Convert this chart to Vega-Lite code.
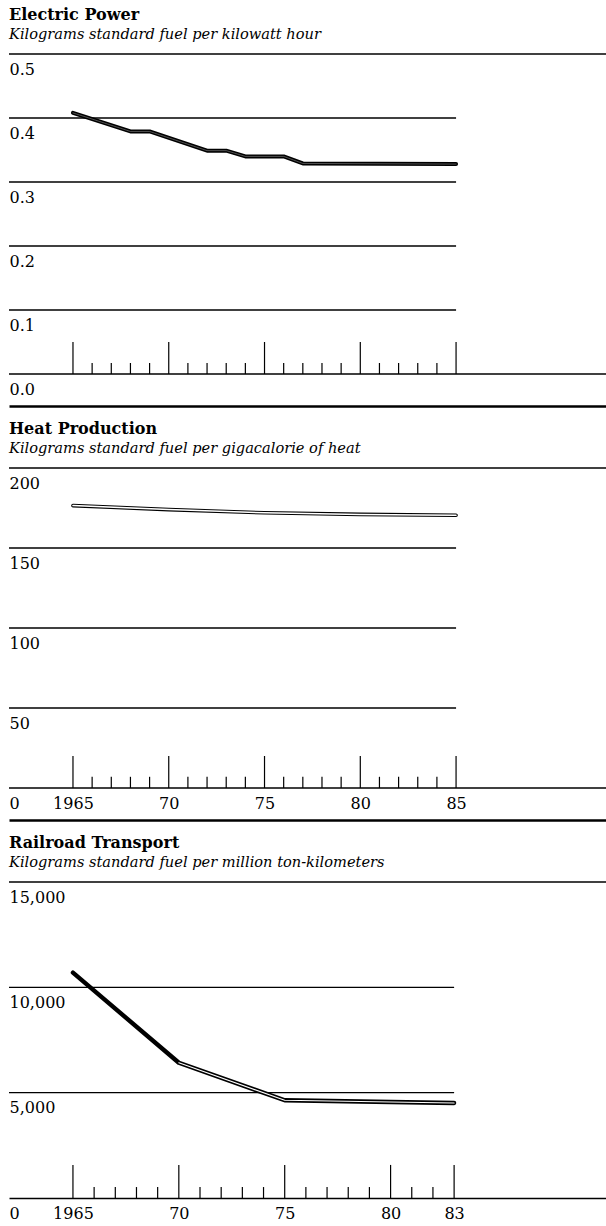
{
  "$schema": "https://vega.github.io/schema/vega-lite/v6.json",
  "background": "white",
  "padding": {"left": 8, "right": 0, "top": 6, "bottom": 0},
  "spacing": 14,
  "datasets": {
    "electric": [
      {"year": 1965, "value": 0.408},
      {"year": 1968, "value": 0.379},
      {"year": 1969, "value": 0.379},
      {"year": 1972, "value": 0.349},
      {"year": 1973, "value": 0.349},
      {"year": 1974, "value": 0.340},
      {"year": 1976, "value": 0.340},
      {"year": 1977, "value": 0.329},
      {"year": 1985, "value": 0.328}
    ],
    "heat": [
      {"year": 1965, "value": 176.5},
      {"year": 1970, "value": 174},
      {"year": 1975, "value": 172},
      {"year": 1980, "value": 171},
      {"year": 1985, "value": 170.5}
    ],
    "rail": [
      {"year": 1965, "value": 10700},
      {"year": 1970, "value": 6420},
      {"year": 1975, "value": 4640},
      {"year": 1980, "value": 4560},
      {"year": 1983, "value": 4510}
    ],
    "years85": [
      {"year": 1965, "kind": "major"}, {"year": 1966, "kind": "minor"}, {"year": 1967, "kind": "minor"}, {"year": 1968, "kind": "minor"}, {"year": 1969, "kind": "minor"},
      {"year": 1970, "kind": "major"}, {"year": 1971, "kind": "minor"}, {"year": 1972, "kind": "minor"}, {"year": 1973, "kind": "minor"}, {"year": 1974, "kind": "minor"},
      {"year": 1975, "kind": "major"}, {"year": 1976, "kind": "minor"}, {"year": 1977, "kind": "minor"}, {"year": 1978, "kind": "minor"}, {"year": 1979, "kind": "minor"},
      {"year": 1980, "kind": "major"}, {"year": 1981, "kind": "minor"}, {"year": 1982, "kind": "minor"}, {"year": 1983, "kind": "minor"}, {"year": 1984, "kind": "minor"},
      {"year": 1985, "kind": "major"}
    ],
    "years83": [
      {"year": 1965, "kind": "major"}, {"year": 1966, "kind": "minor"}, {"year": 1967, "kind": "minor"}, {"year": 1968, "kind": "minor"}, {"year": 1969, "kind": "minor"},
      {"year": 1970, "kind": "major"}, {"year": 1971, "kind": "minor"}, {"year": 1972, "kind": "minor"}, {"year": 1973, "kind": "minor"}, {"year": 1974, "kind": "minor"},
      {"year": 1975, "kind": "major"}, {"year": 1976, "kind": "minor"}, {"year": 1977, "kind": "minor"}, {"year": 1978, "kind": "minor"}, {"year": 1979, "kind": "minor"},
      {"year": 1980, "kind": "major"}, {"year": 1981, "kind": "minor"}, {"year": 1982, "kind": "minor"},
      {"year": 1983, "kind": "major"}
    ]
  },
  "config": {
    "view": {"stroke": null},
    "font": "DejaVu Serif",
    "title": {
      "anchor": "start", "frame": "group", "font": "DejaVu Serif", "fontSize": 16, "fontWeight": "bold", "color": "black",
      "subtitleFont": "DejaVu Serif", "subtitleFontSize": 14.6, "subtitleFontStyle": "italic", "subtitleColor": "black",
      "subtitlePadding": 4, "offset": 12
    },
    "axis": {
      "grid": false, "ticks": false, "tickSize": 0, "domain": false, "labels": false, "title": null,
      "labelFont": "DejaVu Serif", "labelFontSize": 16, "labelColor": "black",
      "labelOverlap": false, "labelFlush": false, "labelBound": false
    }
  },
  "vconcat": [
    {
      "width": 598, "height": 352,
      "title": {"text": "Electric Power", "subtitle": "Kilograms standard fuel per kilowatt hour"},
      "layer": [
        {
          "data": {"values": [{"v": 0.1}, {"v": 0.2}, {"v": 0.3}, {"v": 0.4}]},
          "mark": {"type": "rule", "color": "black", "strokeWidth": 1.3},
          "encoding": {
            "y": {"field": "v", "type": "quantitative", "scale": {"domain": [-0.05, 0.5], "nice": false, "zero": false},
                  "axis": {"orient": "left", "labels": true, "values": [0, 0.1, 0.2, 0.3, 0.4, 0.5], "format": ".1f", "labelAlign": "left", "labelBaseline": "alphabetic", "labelPadding": 0, "labelOffset": 20, "title": null}},
            "x": {"datum": 1961.66, "type": "quantitative", "scale": {"domain": [1961.66, 1992.88], "nice": false, "zero": false}},
            "x2": {"datum": 1985}
          }
        },
        {
          "data": {"values": [{"v": 0}, {"v": 0.5}]},
          "mark": {"type": "rule", "color": "black", "strokeWidth": 1.3},
          "encoding": {"y": {"field": "v", "type": "quantitative"}}
        },
        {
          "data": {"name": "years85"},
          "transform": [{"filter": "datum.kind == 'major'"}],
          "mark": {"type": "rule", "color": "black", "strokeWidth": 1.2},
          "encoding": {
            "x": {"field": "year", "type": "quantitative",
                  "axis": {"orient": "bottom", "labels": false, "domain": true, "domainColor": "black", "domainWidth": 2.5, "title": null}},
            "y": {"datum": 0},
            "y2": {"datum": 0.05}
          }
        },
        {
          "data": {"name": "years85"},
          "transform": [{"filter": "datum.kind == 'minor'"}],
          "mark": {"type": "rule", "color": "black", "strokeWidth": 1.2},
          "encoding": {
            "x": {"field": "year", "type": "quantitative"},
            "y": {"datum": 0},
            "y2": {"datum": 0.0172}
          }
        },
        {
          "data": {"name": "electric"},
          "mark": {"type": "line", "color": "black", "strokeWidth": 4, "strokeCap": "round", "strokeJoin": "round"},
          "encoding": {
            "x": {"field": "year", "type": "quantitative"},
            "y": {"field": "value", "type": "quantitative"}
          }
        },
        {
          "data": {"name": "electric"},
          "mark": {"type": "line", "color": "white", "strokeWidth": 0.7, "opacity": 0.45, "strokeCap": "round", "strokeJoin": "round"},
          "encoding": {
            "x": {"field": "year", "type": "quantitative"},
            "y": {"field": "value", "type": "quantitative"}
          }
        }
      ]
    },
    {
      "width": 598, "height": 352,
      "title": {"text": "Heat Production", "subtitle": "Kilograms standard fuel per gigacalorie of heat"},
      "layer": [
        {
          "data": {"values": [{"v": 50}, {"v": 100}, {"v": 150}]},
          "mark": {"type": "rule", "color": "black", "strokeWidth": 1.3},
          "encoding": {
            "y": {"field": "v", "type": "quantitative", "scale": {"domain": [-20, 200], "nice": false, "zero": false},
                  "axis": {"orient": "left", "labels": true, "values": [0, 50, 100, 150, 200], "format": "d", "labelAlign": "left", "labelBaseline": "alphabetic", "labelPadding": 0, "labelOffset": 20, "title": null}},
            "x": {"datum": 1961.66, "type": "quantitative", "scale": {"domain": [1961.66, 1992.88], "nice": false, "zero": false}},
            "x2": {"datum": 1985}
          }
        },
        {
          "data": {"values": [{"v": 0}, {"v": 200}]},
          "mark": {"type": "rule", "color": "black", "strokeWidth": 1.3},
          "encoding": {"y": {"field": "v", "type": "quantitative"}}
        },
        {
          "data": {"name": "years85"},
          "transform": [{"filter": "datum.kind == 'major'"}],
          "mark": {"type": "rule", "color": "black", "strokeWidth": 1.2},
          "encoding": {
            "x": {"field": "year", "type": "quantitative",
                  "axis": {"orient": "bottom", "labels": true, "values": [1965, 1970, 1975, 1980, 1985],
                           "labelExpr": "datum.value == 1965 ? '1965' : format(datum.value % 100, 'd')",
                           "labelAlign": "center", "labelBaseline": "alphabetic", "labelPadding": -12,
                           "domain": true, "domainColor": "black", "domainWidth": 2.5, "title": null}},
            "y": {"datum": 0},
            "y2": {"datum": 20}
          }
        },
        {
          "data": {"name": "years85"},
          "transform": [{"filter": "datum.kind == 'minor'"}],
          "mark": {"type": "rule", "color": "black", "strokeWidth": 1.2},
          "encoding": {
            "x": {"field": "year", "type": "quantitative"},
            "y": {"datum": 0},
            "y2": {"datum": 7}
          }
        },
        {
          "data": {"name": "heat"},
          "mark": {"type": "line", "color": "black", "strokeWidth": 3.6, "strokeCap": "round", "strokeJoin": "round"},
          "encoding": {
            "x": {"field": "year", "type": "quantitative"},
            "y": {"field": "value", "type": "quantitative"}
          }
        },
        {
          "data": {"name": "heat"},
          "mark": {"type": "line", "color": "white", "strokeWidth": 1.5, "strokeCap": "round", "strokeJoin": "round"},
          "encoding": {
            "x": {"field": "year", "type": "quantitative"},
            "y": {"field": "value", "type": "quantitative"}
          }
        }
      ]
    },
    {
      "width": 598, "height": 316,
      "title": {"text": "Railroad Transport", "subtitle": "Kilograms standard fuel per million ton-kilometers"},
      "layer": [
        {
          "data": {"values": [{"v": 5000}, {"v": 10000}]},
          "mark": {"type": "rule", "color": "black", "strokeWidth": 1.3},
          "encoding": {
            "y": {"field": "v", "type": "quantitative", "scale": {"domain": [0, 15000], "nice": false, "zero": false},
                  "axis": {"orient": "left", "labels": true, "values": [0, 5000, 10000, 15000], "format": ",d", "labelAlign": "left", "labelBaseline": "alphabetic", "labelPadding": 0, "labelOffset": 20, "title": null}},
            "x": {"datum": 1961.98, "type": "quantitative", "scale": {"domain": [1961.98, 1990.22], "nice": false, "zero": false}},
            "x2": {"datum": 1983}
          }
        },
        {
          "data": {"values": [{"v": 15000}]},
          "mark": {"type": "rule", "color": "black", "strokeWidth": 1.3},
          "encoding": {"y": {"field": "v", "type": "quantitative"}}
        },
        {
          "data": {"name": "years83"},
          "transform": [{"filter": "datum.kind == 'major'"}],
          "mark": {"type": "rule", "color": "black", "strokeWidth": 1.2},
          "encoding": {
            "x": {"field": "year", "type": "quantitative",
                  "axis": {"orient": "bottom", "labels": true, "values": [1965, 1970, 1975, 1980, 1983],
                           "labelExpr": "datum.value == 1965 ? '1965' : format(datum.value % 100, 'd')",
                           "labelAlign": "center", "labelBaseline": "alphabetic", "labelPadding": 20,
                           "domain": true, "domainColor": "black", "domainWidth": 1.3, "title": null}},
            "y": {"datum": 0},
            "y2": {"datum": 1570}
          }
        },
        {
          "data": {"name": "years83"},
          "transform": [{"filter": "datum.kind == 'minor'"}],
          "mark": {"type": "rule", "color": "black", "strokeWidth": 1.2},
          "encoding": {
            "x": {"field": "year", "type": "quantitative"},
            "y": {"datum": 0},
            "y2": {"datum": 520}
          }
        },
        {
          "data": {"name": "rail"},
          "mark": {"type": "line", "color": "black", "strokeWidth": 4.4, "strokeCap": "round", "strokeJoin": "round"},
          "encoding": {
            "x": {"field": "year", "type": "quantitative"},
            "y": {"field": "value", "type": "quantitative"}
          }
        },
        {
          "data": {"name": "rail"},
          "transform": [{"filter": "datum.year >= 1970"}],
          "mark": {"type": "line", "color": "white", "strokeWidth": 1.1, "strokeCap": "round", "strokeJoin": "round"},
          "encoding": {
            "x": {"field": "year", "type": "quantitative"},
            "y": {"field": "value", "type": "quantitative"}
          }
        }
      ]
    }
  ]
}
